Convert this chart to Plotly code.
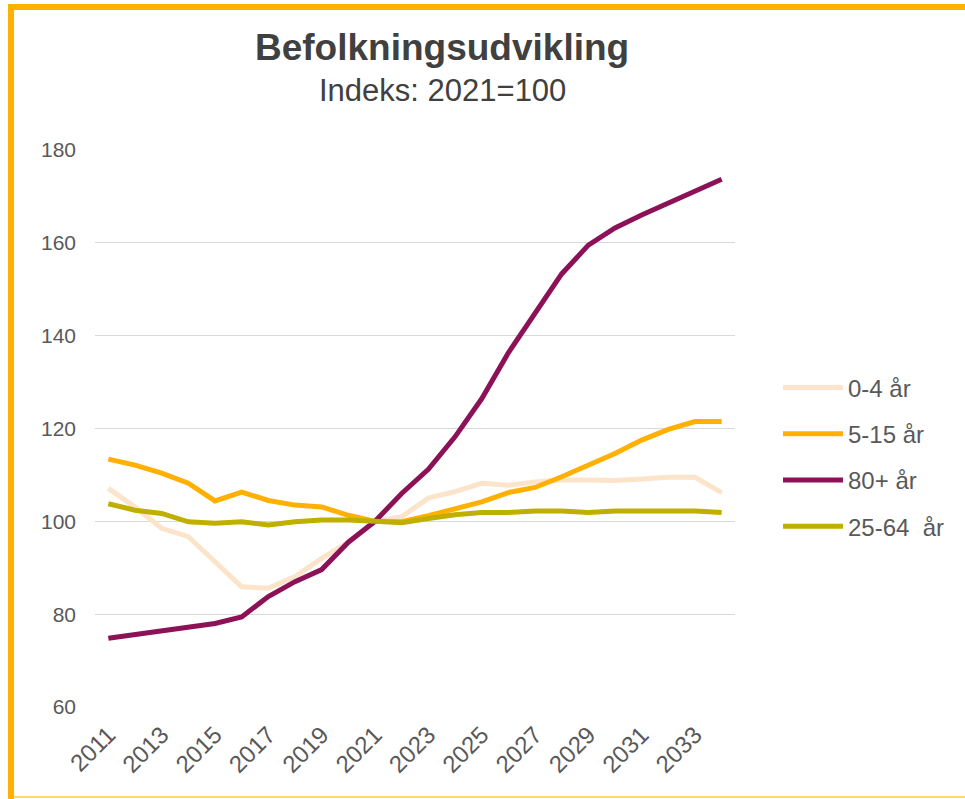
import plotly.graph_objects as go

years = list(range(2011, 2035))

age_0_4 = [107.1, 103.1, 98.5, 96.7, 91.3, 85.9, 85.6, 88.1, 92.0, 95.5, 100.0,
           101.0, 105.0, 106.4, 108.2, 107.8, 108.5, 108.9, 108.9, 108.8, 109.1, 109.5, 109.5, 106.2]
age_5_15 = [113.4, 112.1, 110.4, 108.2, 104.4, 106.3, 104.5, 103.5, 103.1, 101.3, 100.0,
            99.9, 101.2, 102.8, 104.2, 106.2, 107.3, 109.6, 112.1, 114.6, 117.5, 119.8, 121.5, 121.5]
age_80p = [74.8, 75.6, 76.6, 77.2, 78.0, 79.4, 83.8, 87.0, 89.6, 95.5, 100.0,
           106.0, 111.2, 118.2, 126.4, 136.3, 144.8, 153.3, 159.5, 163.2, 166.0, 168.6, 171.2, 173.7]
age_25_64 = [103.8, 102.4, 101.7, 99.9, 99.6, 99.9, 99.2, 99.9, 100.3, 100.3, 100.0,
             99.7, 100.6, 101.4, 101.9, 101.9, 102.2, 102.2, 101.9, 102.2, 102.2, 102.2, 102.2, 101.9]

series_names = ["0-4 år", "5-15 år", "80+ år", "25-64  år"]
series_values = [age_0_4, age_5_15, age_80p, age_25_64]
series_colors = ["#FCE4CA", "#FFB000", "#8C1157", "#BFB000"]

x_ticks = list(range(2011, 2035, 2))
y_ticks = [60, 80, 100, 120, 140, 160, 180]

title_text = "Befolkningsudvikling"
subtitle_text = "Indeks: 2021=100"

FONT = "Liberation Sans, Arial, sans-serif"

fig = go.Figure()
for i, (name, vals, col) in enumerate(zip(series_names, series_values, series_colors)):
    fig.add_trace(go.Scatter(
        x=years, y=vals, name=name, mode="lines",
        line=dict(color=col, width=5),
        legendgroup=f"g{i}",
    ))

# plot area in pixels: x 95..735, y 150..707
L, R, T, B = 95, 735, 150, 707
W, H = 965, 799
def px(x):
    return (x - L) / (R - L)
def py(y):
    return (B - y) / (B - T)

shapes = [
    dict(type="line", xref="paper", yref="paper", x0=px(11), x1=px(11), y0=py(4), y1=py(799),
         line=dict(color="#FFB000", width=6)),
    dict(type="line", xref="paper", yref="paper", x0=px(8), x1=px(965), y0=py(7), y1=py(7),
         line=dict(color="#FFB000", width=6)),
    dict(type="line", xref="paper", yref="paper", x0=px(14), x1=px(965), y0=py(797), y1=py(797),
         line=dict(color="#FFD966", width=2)),
]

fig.update_layout(
    width=W, height=H,
    margin=dict(l=L, r=W - R, t=T, b=H - B),
    paper_bgcolor="white", plot_bgcolor="white",
    font=dict(family=FONT, size=21, color="#595959"),
    showlegend=True,
    legend=dict(x=px(778), y=py(457), xanchor="left", yanchor="middle",
                font=dict(size=24, color="#595959"), tracegroupgap=12,
                itemwidth=60, bgcolor="rgba(0,0,0,0)"),
    xaxis=dict(range=[2010.5, 2034.5], tickvals=x_ticks, ticktext=[str(t) for t in x_ticks],
               tickangle=-45, showgrid=False, zeroline=False, showline=False,
               ticks="", tickfont=dict(size=24, color="#595959"), ticklabelstandoff=8),
    yaxis=dict(range=[60, 180], tickvals=y_ticks, showgrid=True, gridcolor="#D9D9D9",
               gridwidth=1, zeroline=False, showline=False, ticks="",
               tickfont=dict(size=21, color="#595959"), ticklabelstandoff=18),
    shapes=shapes,
    annotations=[
        dict(text=f"<b>{title_text}</b>", xref="paper", yref="paper", x=px(442), y=py(47),
             xanchor="center", yanchor="middle", showarrow=False,
             font=dict(size=37, color="#404040", family=FONT)),
        dict(text=subtitle_text, xref="paper", yref="paper", x=px(442), y=py(90),
             xanchor="center", yanchor="middle", showarrow=False,
             font=dict(size=31, color="#404040", family=FONT)),
    ],
)

fig.write_html("out.html", config={"displayModeBar": False},
               post_script="document.body.style.margin='0';")
